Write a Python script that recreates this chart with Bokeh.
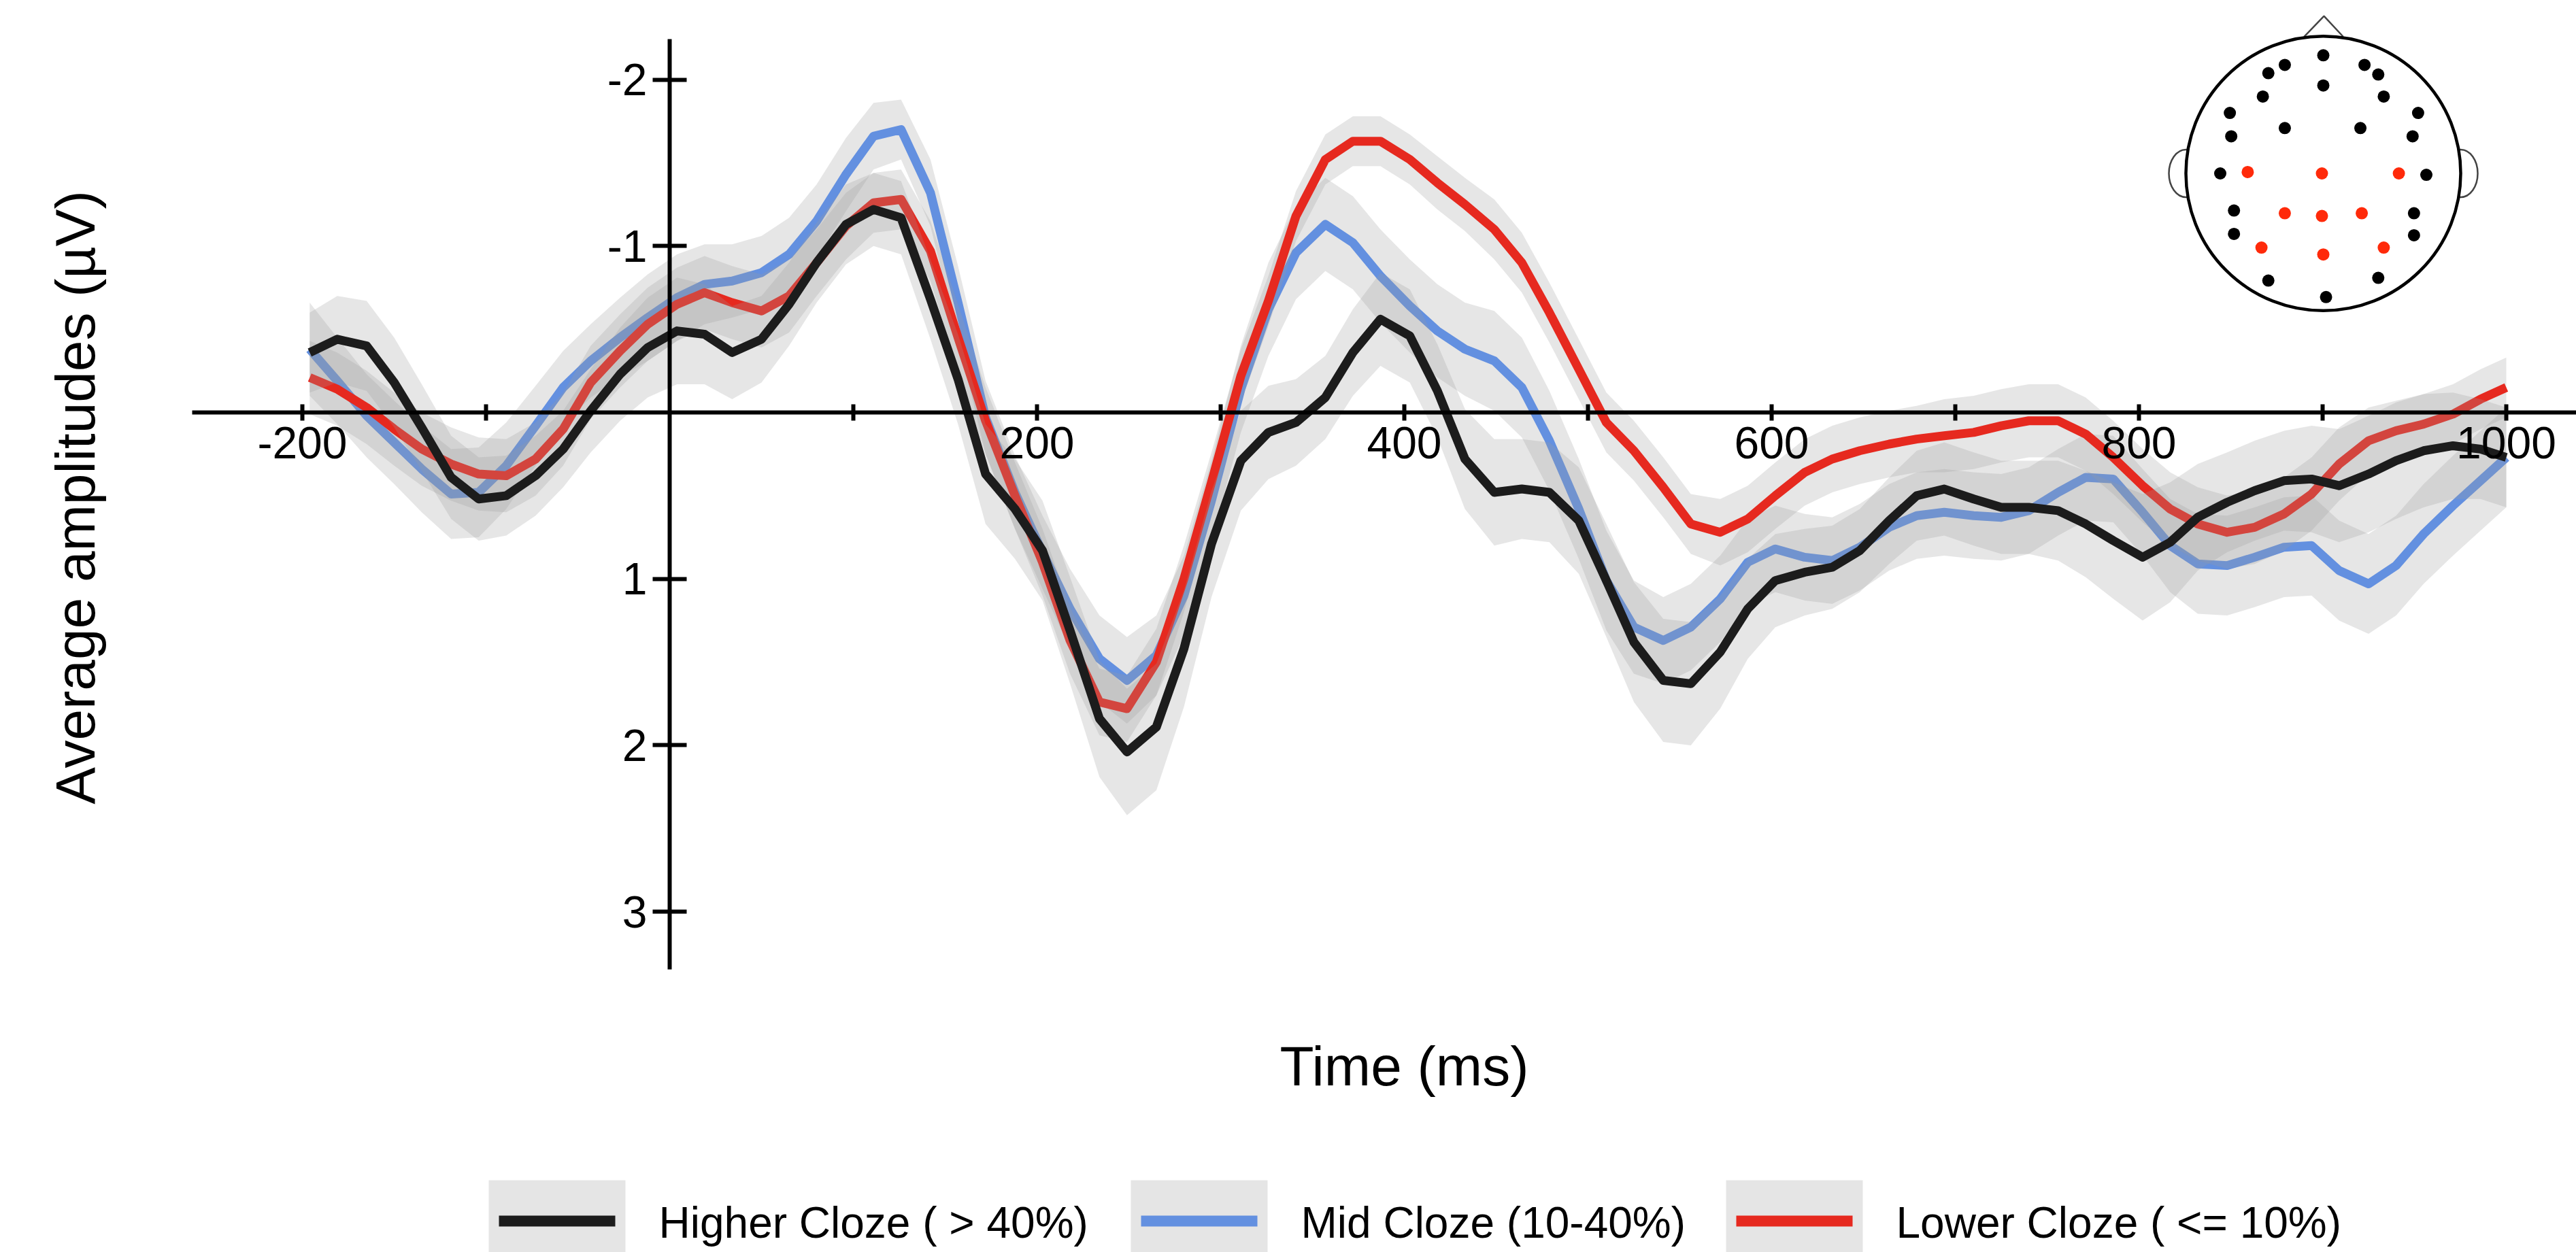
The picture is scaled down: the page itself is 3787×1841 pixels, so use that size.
import numpy as np
from bokeh.plotting import figure
from bokeh.models import Range1d, FixedTicker
from bokeh.core.properties import value
from bokeh.embed import file_html
from bokeh.resources import INLINE

# ---------------- data ----------------
TIMES = [-196, -181, -165, -150, -135, -119, -104, -89, -73, -58,
         -43, -27, -12, 4, 19, 34, 50, 65, 80, 96,
         111, 126, 142, 157, 172, 188, 203, 218, 234, 249,
         265, 280, 295, 311, 326, 341, 357, 372, 387, 403,
         418, 433, 449, 464, 479, 495, 510, 525, 541, 556,
         572, 587, 602, 618, 633, 648, 664, 679, 694, 710,
         725, 740, 756, 771, 786, 802, 817, 832, 848, 863,
         879, 894, 909, 925, 940, 955, 971, 986, 1000]

HIGHER = [-0.36, -0.44, -0.40, -0.18, 0.09, 0.39, 0.52, 0.50, 0.38, 0.22,
          -0.01, -0.23, -0.39, -0.49, -0.47, -0.36, -0.44, -0.65, -0.90, -1.13,
          -1.22, -1.17, -0.68, -0.20, 0.37, 0.58, 0.83, 1.31, 1.84, 2.04,
          1.89, 1.42, 0.79, 0.29, 0.12, 0.06, -0.09, -0.36, -0.56, -0.46,
          -0.13, 0.28, 0.48, 0.46, 0.48, 0.65, 1.01, 1.38, 1.61, 1.63,
          1.44, 1.18, 1.01, 0.96, 0.93, 0.83, 0.65, 0.50, 0.46, 0.52,
          0.57, 0.57, 0.59, 0.67, 0.77, 0.87, 0.78, 0.63, 0.54, 0.47,
          0.41, 0.40, 0.44, 0.37, 0.29, 0.23, 0.20, 0.22, 0.27]

MID = [-0.38, -0.19, 0.02, 0.18, 0.34, 0.49, 0.48, 0.32, 0.08, -0.15,
       -0.31, -0.45, -0.57, -0.69, -0.77, -0.79, -0.84, -0.95, -1.15, -1.43,
       -1.66, -1.70, -1.32, -0.66, 0.03, 0.48, 0.84, 1.18, 1.48, 1.61,
       1.46, 1.10, 0.53, -0.14, -0.62, -0.96, -1.13, -1.02, -0.82, -0.64,
       -0.49, -0.38, -0.31, -0.15, 0.17, 0.58, 1.01, 1.29, 1.37, 1.29,
       1.12, 0.90, 0.82, 0.87, 0.89, 0.81, 0.69, 0.62, 0.60, 0.62,
       0.63, 0.59, 0.48, 0.39, 0.40, 0.60, 0.80, 0.91, 0.92, 0.87,
       0.81, 0.80, 0.95, 1.03, 0.92, 0.73, 0.56, 0.41, 0.27]

LOWER = [-0.21, -0.14, -0.03, 0.10, 0.22, 0.31, 0.37, 0.38, 0.28, 0.10,
         -0.18, -0.37, -0.53, -0.65, -0.72, -0.66, -0.61, -0.70, -0.90, -1.12,
         -1.26, -1.28, -0.97, -0.45, 0.05, 0.50, 0.90, 1.37, 1.74, 1.78,
         1.50, 1.00, 0.42, -0.22, -0.67, -1.18, -1.52, -1.63, -1.63, -1.52,
         -1.38, -1.25, -1.10, -0.90, -0.60, -0.26, 0.06, 0.23, 0.45, 0.67,
         0.72, 0.64, 0.50, 0.36, 0.28, 0.23, 0.19, 0.16, 0.14, 0.12,
         0.08, 0.05, 0.05, 0.13, 0.27, 0.44, 0.58, 0.67, 0.72, 0.69,
         0.61, 0.49, 0.31, 0.17, 0.11, 0.07, 0.01, -0.08, -0.15]

HIGHER_SE = [0.24, 0.26, 0.27, 0.27, 0.26, 0.25, 0.25, 0.24, 0.24, 0.23,
             0.25, 0.28, 0.30, 0.32, 0.30, 0.28, 0.26, 0.25, 0.24, 0.24,
             0.22, 0.22, 0.24, 0.27, 0.30, 0.30, 0.30, 0.32, 0.35, 0.38,
             0.38, 0.35, 0.32, 0.30, 0.28, 0.26, 0.25, 0.26, 0.28, 0.28,
             0.28, 0.30, 0.32, 0.30, 0.30, 0.32, 0.34, 0.36, 0.37, 0.37,
             0.34, 0.30, 0.28, 0.26, 0.25, 0.25, 0.26, 0.27, 0.28, 0.28,
             0.28, 0.28, 0.30, 0.32, 0.35, 0.38, 0.36, 0.32, 0.30, 0.30,
             0.30, 0.32, 0.34, 0.35, 0.35, 0.34, 0.32, 0.30, 0.30]

MID_SE = [0.28, 0.26, 0.25, 0.25, 0.26, 0.27, 0.27, 0.26, 0.24, 0.22,
          0.22, 0.24, 0.26, 0.26, 0.24, 0.22, 0.22, 0.22, 0.22, 0.22,
          0.20, 0.18, 0.20, 0.22, 0.22, 0.22, 0.22, 0.24, 0.26, 0.26,
          0.24, 0.24, 0.24, 0.26, 0.28, 0.28, 0.28, 0.28, 0.28, 0.28,
          0.28, 0.28, 0.30, 0.30, 0.30, 0.30, 0.30, 0.28, 0.26, 0.26,
          0.26, 0.26, 0.26, 0.26, 0.26, 0.26, 0.26, 0.26, 0.26, 0.26,
          0.26, 0.26, 0.26, 0.26, 0.26, 0.26, 0.28, 0.30, 0.30, 0.30,
          0.30, 0.30, 0.30, 0.30, 0.30, 0.30, 0.30, 0.30, 0.30]

LOWER_SE = [0.22, 0.22, 0.22, 0.22, 0.22, 0.22, 0.22, 0.22, 0.22, 0.22,
            0.22, 0.22, 0.22, 0.22, 0.22, 0.22, 0.22, 0.22, 0.20, 0.20,
            0.18, 0.18, 0.18, 0.20, 0.20, 0.20, 0.20, 0.20, 0.20, 0.20,
            0.20, 0.20, 0.18, 0.16, 0.15, 0.15, 0.15, 0.15, 0.15, 0.15,
            0.16, 0.16, 0.18, 0.18, 0.18, 0.18, 0.18, 0.18, 0.18, 0.18,
            0.20, 0.20, 0.20, 0.20, 0.20, 0.20, 0.20, 0.20, 0.22, 0.22,
            0.22, 0.22, 0.22, 0.22, 0.22, 0.22, 0.22, 0.22, 0.22, 0.22,
            0.22, 0.22, 0.22, 0.20, 0.18, 0.18, 0.18, 0.18, 0.18]

SERIES_NAMES = ["Higher Cloze ( > 40%)", "Mid Cloze (10-40%)", "Lower Cloze ( <= 10%)"]
SERIES_COLORS = ["#1c1c1c", "#6390E0", "#E6291F"]

X_TICKS = [-200, 200, 400, 600, 800, 1000]
X_MINOR_TICKS = [-100, 100, 300, 500, 700, 900]
Y_TICKS = [-2, -1, 1, 2, 3]
X_TITLE = "Time (ms)"
Y_TITLE = "Average amplitudes (\u00b5V)"

# electrode montage, head-normalised coords (radius 1, nose up); ROI = highlighted
ELEC_X = [0.00, -0.28, -0.40, 0.30, 0.40, 0.00, -0.44, 0.44, -0.68, 0.69,
          -0.28, 0.27, -0.67, 0.65, -0.75, 0.75, -0.65, 0.66, -0.65, 0.66,
          -0.40, 0.40, 0.02,
          -0.55, -0.01, 0.55, -0.28, -0.01, 0.28, -0.45, 0.44, 0.00]
ELEC_Y = [0.86, 0.79, 0.73, 0.79, 0.72, 0.64, 0.56, 0.56, 0.44, 0.44,
          0.33, 0.33, 0.27, 0.27, 0.00, -0.01, -0.27, -0.29, -0.44, -0.45,
          -0.78, -0.76, -0.90,
          0.01, 0.00, 0.00, -0.29, -0.31, -0.29, -0.54, -0.54, -0.59]
ELEC_ROI = [False] * 23 + [True] * 9

# ---------------- layout helpers (reference pixel -> data) ----------------
PX_PER_MS = 2.7
PX_PER_UV = 244.7
X0_PX, Y0_PX = 984.0, 606.0   # page position of (0 ms, 0 uV)
W, H = 3787, 1841
OFF = 0
BASE_FIX = 0.32  # em correction for the renderer's alphabetic baseline


def sx(px):
    return (px - X0_PX) / PX_PER_MS


def sy(py):
    return (py - Y0_PX) / PX_PER_UV


p = figure(width=W, height=H, output_backend="svg", toolbar_location=None,
           x_range=Range1d(sx(OFF), sx(OFF + W)),
           y_range=Range1d(sy(OFF + H), sy(OFF)),
           min_border=0, min_border_left=0, min_border_right=0,
           min_border_top=0, min_border_bottom=0)
p.outline_line_color = None
p.grid.visible = False
p.background_fill_color = "white"

FONT = "Liberation Sans"

# ---- axes through the origin ----
xa = p.xaxis[0]
xa.fixed_location = 0
xa.bounds = (sx(282), sx(OFF + W))
xa.ticker = FixedTicker(ticks=X_TICKS, minor_ticks=X_MINOR_TICKS)
xa.major_label_overrides = {t: str(t) for t in X_TICKS}
xa.axis_line_width = 6
xa.axis_line_color = "black"
xa.major_tick_in = 12
xa.major_tick_out = 12
xa.major_tick_line_width = 6
xa.minor_tick_in = 12
xa.minor_tick_out = 12
xa.minor_tick_line_width = 6
xa.minor_tick_line_color = "black"
xa.major_label_text_font = FONT
xa.major_label_text_font_size = "66px"
xa.major_label_text_color = "black"
xa.major_label_standoff = 9

ya = p.yaxis[0]
ya.fixed_location = 0
ya.bounds = (sy(57), sy(1425))
ya.ticker = FixedTicker(ticks=Y_TICKS, minor_ticks=[])
ya.major_label_overrides = {t: str(t) for t in Y_TICKS}
ya.axis_line_width = 6
ya.axis_line_color = "black"
ya.major_tick_in = 25
ya.major_tick_out = 25
ya.major_tick_line_width = 6
ya.minor_tick_line_color = None
ya.major_label_text_font = FONT
ya.major_label_text_font_size = "66px"
ya.major_label_text_color = "black"
ya.major_label_standoff = 8

# ---- ribbons + lines ----
t = np.array(TIMES, dtype=float)
series = [
    (np.array(MID), np.array(MID_SE), SERIES_COLORS[1]),
    (np.array(LOWER), np.array(LOWER_SE), SERIES_COLORS[2]),
    (np.array(HIGHER), np.array(HIGHER_SE), SERIES_COLORS[0]),
]
for m, se, col in series:
    p.varea(x=t, y1=m - se, y2=m + se, fill_color="#9a9a9a", fill_alpha=0.25)
    p.line(t, m, line_width=13, line_color=col, line_join="round")

# ---- axis titles ----
p.text(x=[sx(2064)], y=[sy(1593 - BASE_FIX * 82)], text=[X_TITLE], text_font=value(FONT),
       text_font_size="82px", text_align="center", text_baseline="alphabetic",
       text_color="black")
p.text(x=[sx(136 - BASE_FIX * 82)], y=[sy(731)], text=[Y_TITLE], text_font=value(FONT),
       text_font_size="82px", text_align="center", text_baseline="alphabetic",
       angle=np.pi / 2, text_color="black")

# ---- legend (bottom) ----
key_left_px = [718, 1662, 2537]
key_w_px = 201
key_top_px = 1735
key_line_y_px = 1795
label_gap_px = 49
p.quad(left=[sx(k) for k in key_left_px], right=[sx(k + key_w_px) for k in key_left_px],
       top=[sy(key_top_px)] * 3, bottom=[sy(OFF + H + 20)] * 3,
       fill_color="#e5e5e5", line_color=None)
p.segment(x0=[sx(k + 15) for k in key_left_px], x1=[sx(k + key_w_px - 15) for k in key_left_px],
          y0=[sy(key_line_y_px)] * 3, y1=[sy(key_line_y_px)] * 3,
          line_color=SERIES_COLORS, line_width=16)
p.text(x=[sx(k + key_w_px + label_gap_px) for k in key_left_px],
       y=[sy(1818 - BASE_FIX * 64)] * 3,
       text=SERIES_NAMES, text_font=value(FONT), text_font_size="64px",
       text_align="left", text_baseline="alphabetic", text_color="black")

# ---- electrode montage inset ----
head_cx, head_cy, head_r = 3415.0, 254.5, 202.0
hx = lambda nx: sx(head_cx + nx * head_r)
hy = lambda ny: sy(head_cy - ny * head_r)
# ears
p.ellipse(x=[hx(-1.0), hx(1.0)], y=[hy(0.0), hy(0.0)], width=50, height=70,
          width_units="screen", height_units="screen",
          fill_color=None, line_color="#444444", line_width=2.5)
# nose
p.line(x=[hx(-0.14), hx(0.005), hx(0.145)], y=[hy(0.995), hy(1.145), hy(0.995)],
       line_color="#444444", line_width=2.5)
# head outline
p.circle(x=[hx(0.0)], y=[hy(0.0)], radius=head_r, radius_units="screen",
         fill_color="white", line_color="black", line_width=4.5)
# electrodes
p.scatter(x=[hx(v) for v in ELEC_X], y=[hy(v) for v in ELEC_Y], size=18,
          fill_color=["#FF2A0A" if r else "black" for r in ELEC_ROI], line_color=None)

open("out.html", "w").write(file_html(p, INLINE))
